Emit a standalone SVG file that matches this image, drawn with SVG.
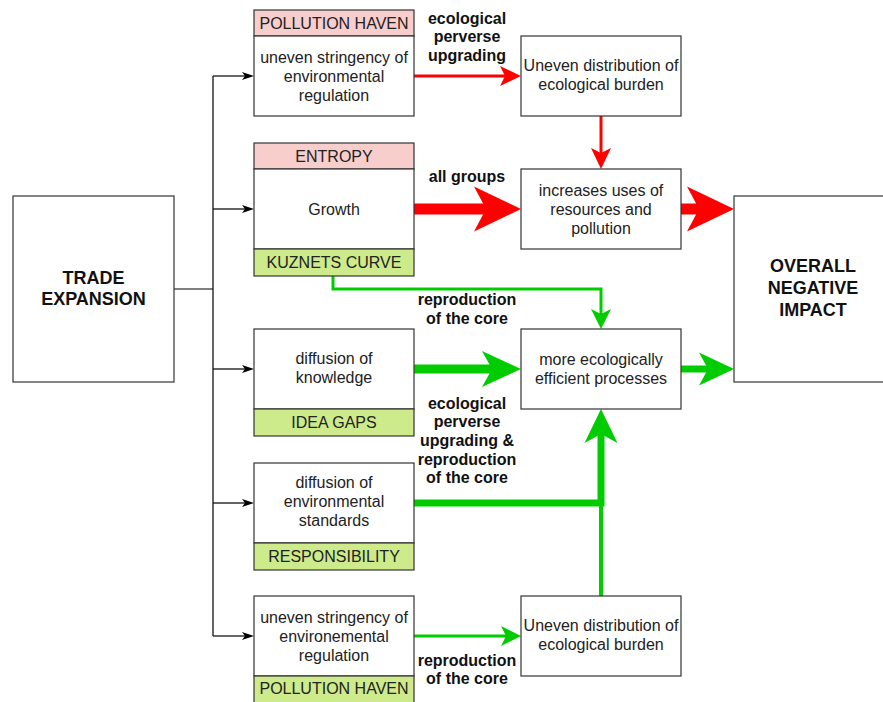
<svg xmlns="http://www.w3.org/2000/svg" width="883" height="702" viewBox="0 0 883 702">
<style>
.box{fill:#fff;stroke:#333;stroke-width:1.2}
.pink{fill:#f8cecc;stroke:#333;stroke-width:1.2}
.lime{fill:#cdeb8b;stroke:#333;stroke-width:1.2}
.t{font-family:"Liberation Sans",Arial,sans-serif;font-size:16px;fill:#222;text-anchor:middle}
.b{font-family:"Liberation Sans",Arial,sans-serif;font-size:16px;font-weight:bold;fill:#111;text-anchor:middle}
.big{font-family:"Liberation Sans",Arial,sans-serif;font-size:18px;font-weight:bold;fill:#111;text-anchor:middle}
.blk{fill:none;stroke:#000;stroke-width:1.2}
.red{fill:none;stroke:#ff0000}
.grn{fill:none;stroke:#00cc00}
.rh{fill:#ff0000}
.gh{fill:#00cc00}
</style>
<defs>
<marker id="mb" viewBox="0 -5 12 10" refX="3" refY="0" markerWidth="12" markerHeight="10" markerUnits="userSpaceOnUse" orient="auto"><path d="M0,-4 L12,0 L0,4 L3,0 Z" fill="#000"/></marker>
<marker id="mr" viewBox="0 -10 21 20" refX="5" refY="0" markerWidth="21" markerHeight="20" markerUnits="userSpaceOnUse" orient="auto"><path d="M0,-10 L21,0 L0,10 L5,0 Z" fill="#ff0000"/></marker>
<marker id="mg" viewBox="0 -10 20 20" refX="5" refY="0" markerWidth="20" markerHeight="20" markerUnits="userSpaceOnUse" orient="auto"><path d="M0,-10 L20,0 L0,10 L5,0 Z" fill="#00cc00"/></marker>
</defs>

<g id="connectors">
<path class="blk" d="M174,289 H213 M213,76 V636"/>
<path class="blk" d="M213,76 H245" marker-end="url(#mb)"/>
<path class="blk" d="M213,209 H245" marker-end="url(#mb)"/>
<path class="blk" d="M213,369 H245" marker-end="url(#mb)"/>
<path class="blk" d="M213,503 H245" marker-end="url(#mb)"/>
<path class="blk" d="M213,636 H245" marker-end="url(#mb)"/>

<path class="red" stroke-width="3" d="M414,76 H505" marker-end="url(#mr)"/>
<path class="red" stroke-width="3" d="M601,116 V153" marker-end="url(#mr)"/>
<path class="red" stroke-width="11" d="M414,209 H488"/>
<path class="rh" d="M474,186.5 L521,209 L474,231.5 L486,209 Z"/>
<path class="red" stroke-width="11" d="M681,209 H701"/>
<path class="rh" d="M687,186.5 L734,209 L687,231.5 L699,209 Z"/>

<path class="grn" stroke-width="3" d="M333,276 V289 H601 V314" marker-end="url(#mg)"/>
<path class="grn" stroke-width="9" d="M414,369 H494"/>
<path class="gh" d="M482,351 L521,369 L482,387 L492,369 Z"/>
<path class="grn" stroke-width="7" d="M681,369 H710"/>
<path class="gh" d="M699,352.5 L734,369 L699,385.5 L708,369 Z"/>
<path class="grn" stroke-width="7" stroke-linejoin="miter" d="M414,503 H601 V432"/>
<path class="gh" d="M584.5,443 L601,409 L617.5,443 L601,434 Z"/>
<path class="grn" stroke-width="4" d="M601,596 V503"/>
<path class="grn" stroke-width="3" d="M414,636 H506" marker-end="url(#mg)"/>

<text class="b" x="467" y="23.6">ecological</text>
<text class="b" x="467" y="42.3">perverse</text>
<text class="b" x="467" y="61">upgrading</text>
<text class="b" x="467" y="181.6">all groups</text>
<text class="b" x="467" y="305">reproduction</text>
<text class="b" x="467" y="323.7">of the core</text>
<text class="b" x="467" y="408.6">ecological</text>
<text class="b" x="467" y="427.3">perverse</text>
<text class="b" x="467" y="446">upgrading &amp;</text>
<text class="b" x="467" y="464.7">reproduction</text>
<text class="b" x="467" y="483.4">of the core</text>
<text class="b" x="467" y="665.6">reproduction</text>
<text class="b" x="467" y="684.3">of the core</text>
</g>

<g id="trade-expansion">
<rect class="box" x="13" y="196" width="161" height="186"/>
<text class="big" x="93.5" y="283.5">TRADE</text>
<text class="big" x="93.5" y="304.5">EXPANSION</text>
</g>

<g id="pollution-haven-top">
<rect class="pink" x="254" y="10" width="160" height="26"/>
<rect class="box" x="254" y="36" width="160" height="80"/>
<text class="t" x="334" y="28.6">POLLUTION HAVEN</text>
<text class="t" x="334" y="62.6">uneven stringency of</text>
<text class="t" x="334" y="81.6">environmental</text>
<text class="t" x="334" y="100.6">regulation</text>
</g>

<g id="growth">
<rect class="pink" x="254" y="143" width="160" height="26"/>
<rect class="box" x="254" y="169" width="160" height="80"/>
<rect class="lime" x="254" y="249" width="160" height="27"/>
<text class="t" x="334" y="161.6">ENTROPY</text>
<text class="t" x="334" y="214.6">Growth</text>
<text class="t" x="334" y="268.1">KUZNETS CURVE</text>
</g>

<g id="diffusion-knowledge">
<rect class="box" x="254" y="329" width="160" height="80"/>
<rect class="lime" x="254" y="409" width="160" height="27"/>
<text class="t" x="334" y="364.1">diffusion of</text>
<text class="t" x="334" y="383.1">knowledge</text>
<text class="t" x="334" y="428.1">IDEA GAPS</text>
</g>

<g id="diffusion-standards">
<rect class="box" x="254" y="463" width="160" height="80"/>
<rect class="lime" x="254" y="543" width="160" height="27"/>
<text class="t" x="334" y="487.6">diffusion of</text>
<text class="t" x="334" y="506.6">environmental</text>
<text class="t" x="334" y="525.6">standards</text>
<text class="t" x="334" y="562.1">RESPONSIBILITY</text>
</g>

<g id="pollution-haven-bottom">
<rect class="box" x="254" y="596" width="160" height="80"/>
<rect class="lime" x="254" y="676" width="160" height="27"/>
<text class="t" x="334" y="622.6">uneven stringency of</text>
<text class="t" x="334" y="641.6">environemental</text>
<text class="t" x="334" y="660.6">regulation</text>
<text class="t" x="334" y="694.1">POLLUTION HAVEN</text>
</g>

<g id="uneven-top">
<rect class="box" x="521" y="36" width="160" height="80"/>
<text class="t" x="601" y="71.1">Uneven distribution of</text>
<text class="t" x="601" y="90.1">ecological burden</text>
</g>

<g id="increases">
<rect class="box" x="521" y="169" width="160" height="80"/>
<text class="t" x="601" y="195.6">increases uses of</text>
<text class="t" x="601" y="214.6">resources and</text>
<text class="t" x="601" y="233.6">pollution</text>
</g>

<g id="efficient">
<rect class="box" x="521" y="329" width="160" height="80"/>
<text class="t" x="601" y="364.6">more ecologically</text>
<text class="t" x="601" y="383.6">efficient processes</text>
</g>

<g id="uneven-bottom">
<rect class="box" x="521" y="596" width="160" height="80"/>
<text class="t" x="601" y="631.1">Uneven distribution of</text>
<text class="t" x="601" y="650.1">ecological burden</text>
</g>

<g id="overall">
<rect class="box" x="734" y="196" width="162" height="186"/>
<text class="big" x="813" y="271.5">OVERALL</text>
<text class="big" x="813" y="293.5">NEGATIVE</text>
<text class="big" x="813" y="316">IMPACT</text>
</g>
</svg>
